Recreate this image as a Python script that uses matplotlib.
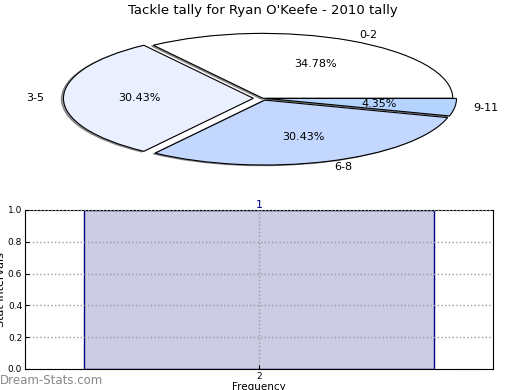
import matplotlib
matplotlib.use("Agg")
import matplotlib.pyplot as plt

# pie data
labels = ["0-2", "3-5", "6-8", "9-11"]
counts = [8, 7, 7, 1]
pie_colors = ["#ffffff", "#eaf0ff", "#c4d8ff", "#b4d4ff"]
explode = [0, 0.05, 0.03, 0.02]

# bar data
bar_x = [2]
bar_h = [1]
bar_labels = ["1"]

fig = plt.figure(figsize=(5.2, 3.9), dpi=100)

ax1 = fig.add_axes([0.049, 0.54, 0.913, 0.416])
wedges, texts, autotexts = ax1.pie(counts, labels=labels, colors=pie_colors, explode=explode,
                                   autopct="%1.2f%%", startangle=0,
                                   shadow={"ox": -0.008, "oy": -0.008, "shade": 0.75},
                                   wedgeprops=dict(edgecolor="black", linewidth=0.8),
                                   textprops=dict(fontsize=8))
ax1.set_aspect("auto")
ax1.set_xlim(-1.25, 1.25)
ax1.set_ylim(-1.25, 1.25)
ax1.set_title("Tackle tally for Ryan O'Keefe - 2010 tally", fontsize=9.5, pad=2)

ax2 = fig.add_axes([0.048, 0.054, 0.9, 0.4077])
bars = ax2.bar(bar_x, bar_h, width=0.8, color=(0, 0, 0.5, 0.2), edgecolor="navy", linewidth=1)
for x, h, t in zip(bar_x, bar_h, bar_labels):
    ax2.text(x, h, t, ha="center", va="bottom", color="navy", fontsize=8)
ax2.set_xlim(1.465, 2.535)
ax2.set_ylim(0, 1)
ax2.set_xticks(bar_x)
ax2.set_yticks([0, 0.2, 0.4, 0.6, 0.8, 1.0])
ax2.set_yticklabels(["0.0", "0.2", "0.4", "0.6", "0.8", "1.0"])
ax2.tick_params(labelsize=6.5, direction="in", length=3, pad=2)
ax2.grid(True, linestyle=":", color="#999999", linewidth=1)
ax2.set_axisbelow(False)
ax2.set_xlabel("Frequency", fontsize=7.5, labelpad=1)
ax2.set_ylabel("Stat Intervals", fontsize=8, labelpad=1)

fig.text(0.0, 0.008, "Dream-Stats.com", color="#888888", fontsize=8.5,
         ha="left", va="bottom")

fig.savefig("out.png", dpi=100)
